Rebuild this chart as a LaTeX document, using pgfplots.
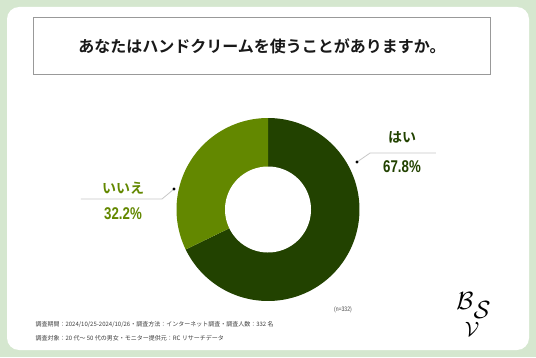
\documentclass[border=0pt]{standalone}
\usepackage{pgfplots}
\pgfplotsset{compat=1.18}
\usepackage{pgfplotstable}
\usepackage{fontspec}
\newfontfamily\jp{Noto Sans CJK JP}
\newfontfamily\jpb{Noto Sans CJK JP Bold}
\newfontfamily\numfont[FakeStretch=0.78]{Liberation Sans}
\definecolor{bgc}{RGB}{213,231,207}
\definecolor{darkg}{RGB}{34,66,0}
\definecolor{lightg}{RGB}{99,136,0}
\definecolor{linec}{RGB}{200,200,200}
\pgfplotstableread{
label value
yes 67.8
no 32.2
}\piedata
\begin{document}
\begin{tikzpicture}[x=1pt,y=1pt]
\fill[bgc] (0,0) rectangle (536,357);
\fill[white, rounded corners=12pt] (7,7) rectangle (529,350);
\draw[gray!80, line width=0.8pt] (33,283) rectangle (490,340);
\node[font=\jpb\fontsize{16}{18}\selectfont, text=black!90] at (262,311) {あなたはハンドクリームを使うことがありますか。};
\begin{axis}[
  at={(0pt,0pt)}, anchor=south west,
  x=91.5pt, y=91.5pt,
  xmin=-2.92896, xmax=2.92896, ymin=-1.61202, ymax=2.28962,
  hide axis, clip=false, scale only axis]
\pgfplotstablegetelem{0}{value}\of\piedata \let\va\pgfplotsretval
\pgfplotstablegetelem{1}{value}\of\piedata \let\vb\pgfplotsretval
\addplot[fill=darkg, draw=none, domain={90-3.6*\va}:90, samples=150] ({cos(x)},{sin(x)}) -- (axis cs:0,0) -- cycle;
\addplot[fill=lightg, draw=none, domain=90:{90+3.6*\vb}, samples=100] ({cos(x)},{sin(x)}) -- (axis cs:0,0) -- cycle;
\addplot[fill=white, draw=none, domain=0:360, samples=120] ({0.47*cos(x)},{0.47*sin(x)}) -- cycle;
\addplot[linec, line width=0.8pt, mark=*, mark size=1.1pt, mark options={black, draw=black}, mark indices={3}] coordinates {(-2.044,0.115) (-1.158,0.115) (-1.027,0.224)};
\addplot[linec, line width=0.8pt, mark=*, mark size=1.1pt, mark options={black, draw=black}, mark indices={3}] coordinates {(1.836,0.617) (1.115,0.617) (0.973,0.519)};
\end{axis}
\node[font=\jpb\fontsize{14}{16}\selectfont, text=lightg] at (123,169) {いいえ};
\node[font=\numfont\bfseries\fontsize{17}{18}\selectfont, text=lightg] at (123,143) {32.2\%};
\node[font=\jpb\fontsize{14}{16}\selectfont, text=darkg] at (402,220) {はい};
\node[font=\numfont\bfseries\fontsize{17}{18}\selectfont, text=darkg] at (402,190) {67.8\%};
\node[font=\numfont\fontsize{6.5}{7}\selectfont, text=black!70] at (343,47) {(n=332)};
\node[anchor=west, font=\jp\fontsize{6}{7}\selectfont, text=black!75] at (32,32) {調査期間：2024/10/25-2024/10/26・調査方法：インターネット調査・調査人数：332 名};
\node[anchor=west, font=\jp\fontsize{6}{7}\selectfont, text=black!75] at (32,19) {調査対象：20 代〜 50 代の男女・モニター提供元：RC リサーチデータ};
\node[font=\fontsize{24}{24}\selectfont] at (465,56) {$\mathcal{B}$};
\node[font=\fontsize{26}{26}\selectfont] at (482,47) {$\mathcal{S}$};
\node[font=\fontsize{22}{22}\selectfont] at (472,28) {$\mathcal{V}$};
\end{tikzpicture}
\end{document}
